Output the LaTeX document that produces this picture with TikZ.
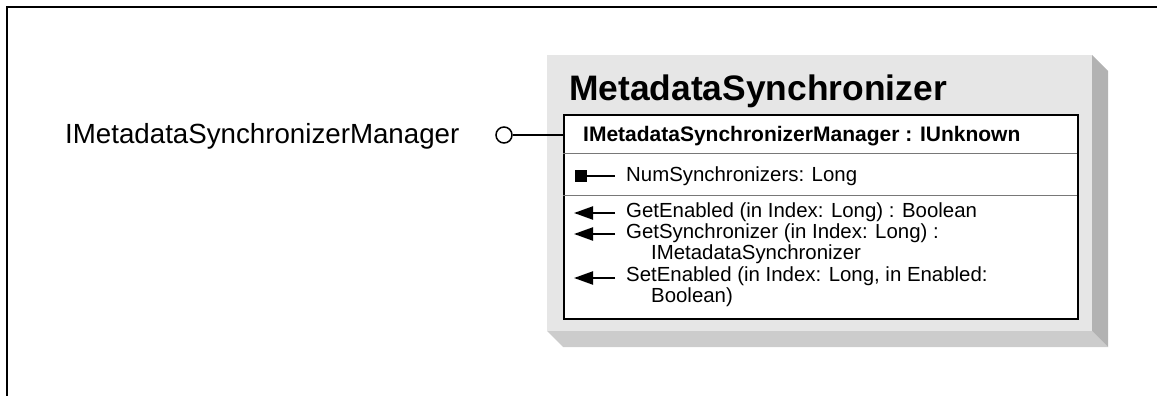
\documentclass[tikz,border=0pt]{standalone}
\usepackage{fontspec}
\setmainfont{Liberation Sans}
\usetikzlibrary{arrows.meta}
\definecolor{panel}{RGB}{230,230,230}
\definecolor{sideshade}{RGB}{178,178,178}
\definecolor{bottomshade}{RGB}{204,204,204}
\definecolor{sepgray}{RGB}{120,120,120}
\tikzset{
  frameline/.style={line width=2pt,black},
  bodytext/.style={anchor=base west,inner sep=0pt,font=\fontsize{20.4}{21}\selectfont},
  hdrtext/.style={anchor=base west,inner sep=0pt,font=\fontsize{21}{22}\selectfont\bfseries},
  titletext/.style={anchor=base west,inner sep=0pt,font=\fontsize{35.4}{36}\selectfont\bfseries},
  lbltext/.style={anchor=base west,inner sep=0pt,font=\fontsize{27.7}{30}\selectfont},
  methodarrow/.style={line width=2.2pt,-{Triangle[length=19pt,width=13pt]}},
  seprule/.style={line width=1pt,sepgray}
}
\begin{document}
\begin{tikzpicture}[x=1pt,y=-1pt]
\useasboundingbox (0,0) rectangle (1157,396);
% outer frame (top and left)
\draw[frameline] (1157,7) -- (7,7) -- (7,396);
% 3D panel
\fill[bottomshade] (547,331) -- (1092,331) -- (1108,347) -- (563,347) -- cycle;
\fill[sideshade] (1092,55) -- (1108,71) -- (1108,347) -- (1092,331) -- cycle;
\fill[panel] (547,55) rectangle (1092,331);
% title
\node[titletext] (title) at (569,100) {MetadataSynchronizer};
% inner white box
\node[draw,fill=white,line width=1.5pt,anchor=north west,minimum width=514pt,minimum height=204pt,inner sep=0pt] (box) at (563,114) {};
\draw[seprule] (563,153) -- (1077,153);
\draw[seprule] (563,195) -- (1077,195);
% header
\node[hdrtext] (hdr) at (583,141) {IMetadataSynchronizerManager : IUnknown};
% property
\node[fill=black,minimum size=12pt,inner sep=0pt] (propsq) at (581,176) {};
\coordinate (propend) at (615,176);
\draw[line width=2.2pt] (propsq.center) -- (propend);
\node[bodytext] (prop) at (626,181.5) {NumSynchronizers: Long};
% methods
\coordinate (m1s) at (615,213);
\coordinate (m1e) at (574,213);
\coordinate (m2s) at (615,234);
\coordinate (m2e) at (574,234);
\coordinate (m3s) at (615,278);
\coordinate (m3e) at (574,278);
\draw[methodarrow] (m1s) -- (m1e);
\draw[methodarrow] (m2s) -- (m2e);
\draw[methodarrow] (m3s) -- (m3e);
\node[bodytext] (m1) at (626,217.5) {GetEnabled (in Index: Long) : Boolean};
\node[bodytext] (m2) at (626,238.5) {GetSynchronizer (in Index: Long) :};
\node[bodytext] (m2b) at (651,259.5) {IMetadataSynchronizer};
\node[bodytext] (m3) at (626,281.5) {SetEnabled (in Index: Long, in Enabled:};
\node[bodytext] (m3b) at (651,302.5) {Boolean)};
% interface label and lollipop
\node[lbltext] (lbl) at (65,143.3) {IMetadataSynchronizerManager};
\node[circle,draw,line width=1.5pt,minimum size=16pt,inner sep=0pt] (lol) at (504,135) {};
\draw[line width=1.5pt] (lol.east) -- (lol.east -| box.west);
\end{tikzpicture}
\end{document}
